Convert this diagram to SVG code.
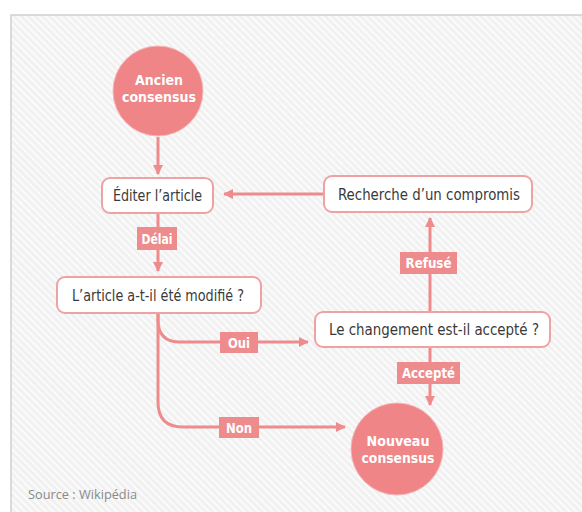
<svg xmlns="http://www.w3.org/2000/svg" width="582" height="512" viewBox="0 0 582 512">
<defs>
<pattern id="hatch" width="5" height="5" patternUnits="userSpaceOnUse" patternTransform="rotate(-45)">
<rect width="5" height="5" fill="#f1f1f1"/>
<rect width="2" height="5" fill="#fbfbfb"/>
</pattern>
<marker id="arr" viewBox="0 0 10 10" refX="9" refY="5" markerWidth="10" markerHeight="10" markerUnits="userSpaceOnUse" orient="auto">
<path d="M0,0 L10,5 L0,10 Z" fill="#ee8b8d"/>
</marker>
<style>
.box{fill:#ffffff;stroke:#efa2a4;stroke-width:2}
.bt{font-family:"Liberation Sans Narrow","DejaVu Sans Condensed","Liberation Sans",sans-serif;font-size:16px;fill:#3a3a3a;text-anchor:middle}
.ct{font-family:"Liberation Sans Narrow","DejaVu Sans Condensed","Liberation Sans",sans-serif;font-size:14.5px;font-weight:bold;fill:#ffffff;text-anchor:middle}
.lb{fill:#ee8b8d}
.lt{font-family:"Liberation Sans Narrow","DejaVu Sans Condensed","Liberation Sans",sans-serif;font-size:14px;font-weight:bold;fill:#ffffff;text-anchor:middle}
.ln{fill:none;stroke:#ee8b8d;stroke-width:3}
.circ{fill:#ef8587;stroke:#f6b7b8;stroke-width:1}
</style>
</defs>
<rect x="0" y="0" width="582" height="512" fill="#ffffff"/>
<rect x="11" y="15" width="580" height="510" fill="url(#hatch)" stroke="#cfcfcf" stroke-width="1.5"/>

<g id="connectors">
<line class="ln" x1="158" y1="137" x2="158" y2="174" marker-end="url(#arr)"/>
<line class="ln" x1="158" y1="213" x2="158" y2="271" marker-end="url(#arr)"/>
<line class="ln" x1="324" y1="194" x2="224" y2="194" marker-end="url(#arr)"/>
<line class="ln" x1="430" y1="312" x2="430" y2="218" marker-end="url(#arr)"/>
<line class="ln" x1="430" y1="347" x2="430" y2="405" marker-end="url(#arr)"/>
<path class="ln" d="M158,313 V320 Q158,342 180,342 H308" marker-end="url(#arr)"/>
<path class="ln" d="M158,313 V402 Q158,427 183,427 H345" marker-end="url(#arr)"/>
<g id="lbl-delai"><rect class="lb" x="137" y="227" width="40" height="23"/><text class="lt" x="157" y="244" textLength="31" lengthAdjust="spacingAndGlyphs">Délai</text></g>
<g id="lbl-refuse"><rect class="lb" x="400" y="252" width="57" height="22"/><text class="lt" x="428.5" y="268" textLength="46" lengthAdjust="spacingAndGlyphs">Refusé</text></g>
<g id="lbl-accepte"><rect class="lb" x="397" y="362" width="63" height="22"/><text class="lt" x="428.5" y="378" textLength="53" lengthAdjust="spacingAndGlyphs">Accepté</text></g>
<g id="lbl-oui"><rect class="lb" x="220" y="332" width="38" height="21"/><text class="lt" x="239" y="347.5" textLength="22" lengthAdjust="spacingAndGlyphs">Oui</text></g>
<g id="lbl-non"><rect class="lb" x="219" y="417" width="40" height="21"/><text class="lt" x="239" y="432.5" textLength="26" lengthAdjust="spacingAndGlyphs">Non</text></g>
</g>

<g id="ancien">
<circle class="circ" cx="158" cy="91" r="45"/>
<text class="ct" x="159" y="85" textLength="48" lengthAdjust="spacingAndGlyphs">Ancien</text>
<text class="ct" x="159" y="102" textLength="74" lengthAdjust="spacingAndGlyphs">consensus</text>
</g>

<g id="editer">
<rect class="box" x="102" y="178" width="111" height="35" rx="8"/>
<text class="bt" x="157.5" y="201" textLength="89" lengthAdjust="spacingAndGlyphs">Éditer l’article</text>
</g>

<g id="recherche">
<rect class="box" x="324" y="176" width="208" height="36" rx="8"/>
<text class="bt" x="429" y="200" textLength="182" lengthAdjust="spacingAndGlyphs">Recherche d’un compromis</text>
</g>

<g id="modifie">
<rect class="box" x="57" y="277" width="204" height="36" rx="8"/>
<text class="bt" x="158" y="301" textLength="172" lengthAdjust="spacingAndGlyphs">L’article a-t-il été modifié ?</text>
</g>

<g id="accepte">
<rect class="box" x="315" y="312" width="235" height="35" rx="8"/>
<text class="bt" x="434" y="335" textLength="210" lengthAdjust="spacingAndGlyphs">Le changement est-il accepté ?</text>
</g>

<g id="nouveau">
<circle class="circ" cx="397" cy="449" r="46"/>
<text class="ct" x="398" y="446" textLength="63" lengthAdjust="spacingAndGlyphs">Nouveau</text>
<text class="ct" x="398" y="463" textLength="73" lengthAdjust="spacingAndGlyphs">consensus</text>
</g>

<text x="28" y="499" font-family="'Open Sans','Noto Sans',sans-serif" font-size="12.5" fill="#8a8a8a" textLength="109" lengthAdjust="spacingAndGlyphs">Source : Wikipédia</text>
</svg>
